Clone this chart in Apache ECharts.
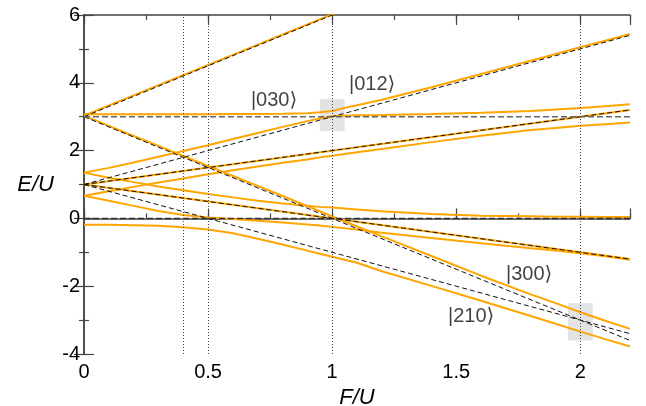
<!DOCTYPE html>
<html>
<head>
<meta charset="utf-8">
<script src="https://cdn.jsdelivr.net/npm/echarts@6/dist/echarts.min.js"></script>
<style>
  html, body { margin: 0; padding: 0; background: #fff; }
  #chart { width: 646px; height: 406px; }
</style>
</head>
<body>
<div id="chart"></div>
<script>
// ---------- DATA ----------
// common F/U sampling grid for the orange (exact spectrum) curves
const F_GRID = [0, 0.1, 0.2, 0.3, 0.4, 0.5, 0.6, 0.7, 0.8, 0.9, 0.95, 1.0, 1.05, 1.1, 1.2, 1.4, 1.6, 1.8, 1.9, 2.0, 2.1, 2.2];

// orange curves, E/U values on F_GRID
const E_030_012 = [3.07, 3.07, 3.07, 3.07, 3.075, 3.075, 3.08, 3.08, 3.085, 3.10, 3.13, 3.17, 3.26, 3.34, 3.50, 3.87, 4.26, 4.65, 4.85, 5.05, 5.24, 5.44];
const E_012_030 = [1.35, 1.49, 1.65, 1.82, 1.99, 2.16, 2.34, 2.52, 2.70, 2.87, 2.95, 3.01, 3.03, 3.04, 3.05, 3.08, 3.12, 3.17, 3.21, 3.26, 3.31, 3.37];
const E_R_LOW   = [0.67, 0.80, 0.93, 1.06, 1.18, 1.30, 1.42, 1.53, 1.64, 1.74, 1.80, 1.85, 1.90, 1.95, 2.05, 2.25, 2.44, 2.61, 2.67, 2.73, 2.78, 2.83];
const E_L_UP    = [1.35, 1.20, 1.07, 0.94, 0.83, 0.72, 0.62, 0.52, 0.44, 0.37, 0.34, 0.32, 0.29, 0.26, 0.21, 0.13, 0.08, 0.06, 0.05, 0.05, 0.04, 0.04];
const E_300     = [3.03, 2.73, 2.43, 2.14, 1.84, 1.545, 1.25, 0.955, 0.66, 0.36, 0.21, 0.06, -0.09, -0.24, -0.53, -1.11, -1.69, -2.24, -2.50, -2.77, -3.02, -3.26];
const E_111_210 = [-0.19, -0.19, -0.20, -0.22, -0.26, -0.33, -0.44, -0.60, -0.77, -0.95, -1.04, -1.13, -1.22, -1.31, -1.56, -1.99, -2.43, -2.88, -3.11, -3.34, -3.56, -3.78];
const E_L_LOW   = [0.67, 0.52, 0.37, 0.22, 0.10, 0.03, -0.02, -0.07, -0.12, -0.18, -0.21, -0.25, -0.29, -0.33, -0.42, -0.58, -0.73, -0.88, -0.95, -1.03, -1.12, -1.22];

// straight orange curves (end points)
const F_003 = [0, 1.05];
const E_003 = [3.03, 6.17];
const F_ENDS = [0, 2.2];
const E_DARK_R = [1.0, 3.2];
const E_DARK_L = [1.0, -1.2];

// dashed Wannier-Stark levels (E/U at F=0 and at F=2.2)
const WS_300 = [3, -3.6];
const WS_030 = [3, 3];
const WS_003 = [3, 9.6];
const WS_210 = [1, -3.4];
const WS_201 = [1, -1.2];
const WS_102 = [1, 3.2];
const WS_012 = [1, 5.4];
const WS_111 = [0, 0];

// dotted vertical markers
const DOTTED_F = [0.4, 0.5, 1, 2];

// grey highlight boxes [F1, E1, F2, E2]
const BOXES = [[0.95, 2.58, 1.05, 3.52], [1.95, -3.6, 2.05, -2.5]];

// state labels
const KET_TEXT = ['|030⟩', '|012⟩', '|300⟩', '|210⟩'];
const KET_F = [0.766, 1.161, 1.794, 1.56];
const KET_E = [3.49, 3.94, -1.64, -2.90];

// ---------- CHART ----------
const zip = (xs, ys) => xs.map((x, i) => [x, ys[i]]);
const ORANGE = '#ffa500';
const FONT = 'Liberation Sans, Arial, Helvetica, sans-serif';

function orange(xs, ys) {
  return {
    type: 'line', data: zip(xs, ys), showSymbol: false, symbol: 'none',
    smooth: false, z: 3, silent: true,
    lineStyle: { color: ORANGE, width: 2 }
  };
}
function dashed(ys, color, width, dash) {
  return {
    type: 'line', data: zip(F_ENDS, ys), showSymbol: false, symbol: 'none', z: 4, silent: true,
    lineStyle: { color: color, width: width, type: dash }
  };
}

const series = [
  {
    type: 'line', data: [], z: 1, silent: true,
    markArea: {
      silent: true,
      itemStyle: { color: '#e3e3e3' },
      data: BOXES.map(b => [{ coord: [b[0], b[1]] }, { coord: [b[2], b[3]] }])
    },
    markLine: {
      silent: true, symbol: 'none', label: { show: false },
      lineStyle: { color: '#444', width: 1, type: [1, 2] },
      data: DOTTED_F.map(f => ({ xAxis: f }))
    }
  },
  orange(F_003, E_003),
  orange(F_GRID, E_030_012),
  orange(F_GRID, E_012_030),
  orange(F_ENDS, E_DARK_R),
  orange(F_GRID, E_R_LOW),
  orange(F_ENDS, E_DARK_L),
  orange(F_GRID, E_L_UP),
  orange(F_GRID, E_300),
  orange(F_GRID, E_111_210),
  orange(F_GRID, E_L_LOW),
  dashed(WS_300, '#111', 1, [5, 3]),
  dashed(WS_003, '#111', 1, [5, 3]),
  dashed(WS_210, '#111', 1, [5, 3]),
  dashed(WS_201, '#111', 1, [5, 3]),
  dashed(WS_102, '#111', 1, [5, 3]),
  dashed(WS_012, '#111', 1, [5, 3]),
  dashed(WS_030, '#666', 1.5, [6, 3]),
  dashed(WS_111, '#333', 1.5, [6, 3]),
  {
    type: 'scatter', symbolSize: 0, z: 6, silent: true,
    data: KET_TEXT.map((t, i) => ({ name: t, value: [KET_F[i], KET_E[i]] })),
    label: {
      show: true, position: 'inside', formatter: p => p.name,
      fontSize: 20, color: '#111', fontFamily: 'Liberation Sans, DejaVu Sans, sans-serif'
    }
  }
];

const axisLineStyle = { show: true, lineStyle: { color: '#444', width: 1.5 } };
const xMajor = (pos, labels) => ({
  type: 'value', position: pos, min: 0, max: 2.2, interval: 0.5,
  axisLine: axisLineStyle,
  axisTick: { show: true, inside: true, length: 10, lineStyle: { color: '#444', width: 1.2 } },
  axisLabel: labels ? {
    show: true, fontSize: 20, color: '#000', margin: 8, fontFamily: FONT,
    formatter: v => (Math.abs(v * 2 - Math.round(v * 2)) < 1e-6 ? String(v) : '')
  } : { show: false },
  splitLine: { show: false },
  name: labels ? 'F/U' : '', nameLocation: 'middle', nameGap: 28,
  nameTextStyle: { fontSize: 22, fontStyle: 'italic', color: '#000', fontFamily: FONT }
});
const xMinor = (pos) => ({
  type: 'value', position: pos, min: 0, max: 2.2, interval: 0.25,
  axisLine: { show: false },
  axisTick: { show: true, inside: true, length: 5, lineStyle: { color: '#444', width: 1.2 } },
  axisLabel: { show: false }, splitLine: { show: false }
});
const yAxisDef = (pos, labels) => ({
  type: 'value', position: pos, min: -4, max: 6, interval: 2,
  axisLine: axisLineStyle,
  axisTick: { show: true, inside: true, length: 10, lineStyle: { color: '#444', width: 1.2 } },
  minorTick: { show: true, splitNumber: 2, length: 5, lineStyle: { color: '#444', width: 1.2 } },
  axisLabel: labels ? { show: true, fontSize: 20, color: '#000', margin: 4, fontFamily: FONT } : { show: false },
  splitLine: { show: false }, minorSplitLine: { show: false },
  name: labels ? 'E/U' : '', nameLocation: 'middle', nameRotate: 0, nameGap: 30,
  nameTextStyle: { fontSize: 22, fontStyle: 'italic', color: '#000', fontFamily: FONT }
});

const chart = echarts.init(document.getElementById('chart'), null, { renderer: 'canvas' });
chart.setOption({
  animation: false,
  backgroundColor: '#fff',
  grid: { left: 84, right: 16, top: 15, bottom: 52, containLabel: false, outerBoundsMode: 'none' },
  xAxis: [xMajor('bottom', true), xMinor('bottom'), xMajor('top', false), xMinor('top')],
  yAxis: [yAxisDef('left', true), yAxisDef('right', false)],
  series: series
});
</script>
</body>
</html>
